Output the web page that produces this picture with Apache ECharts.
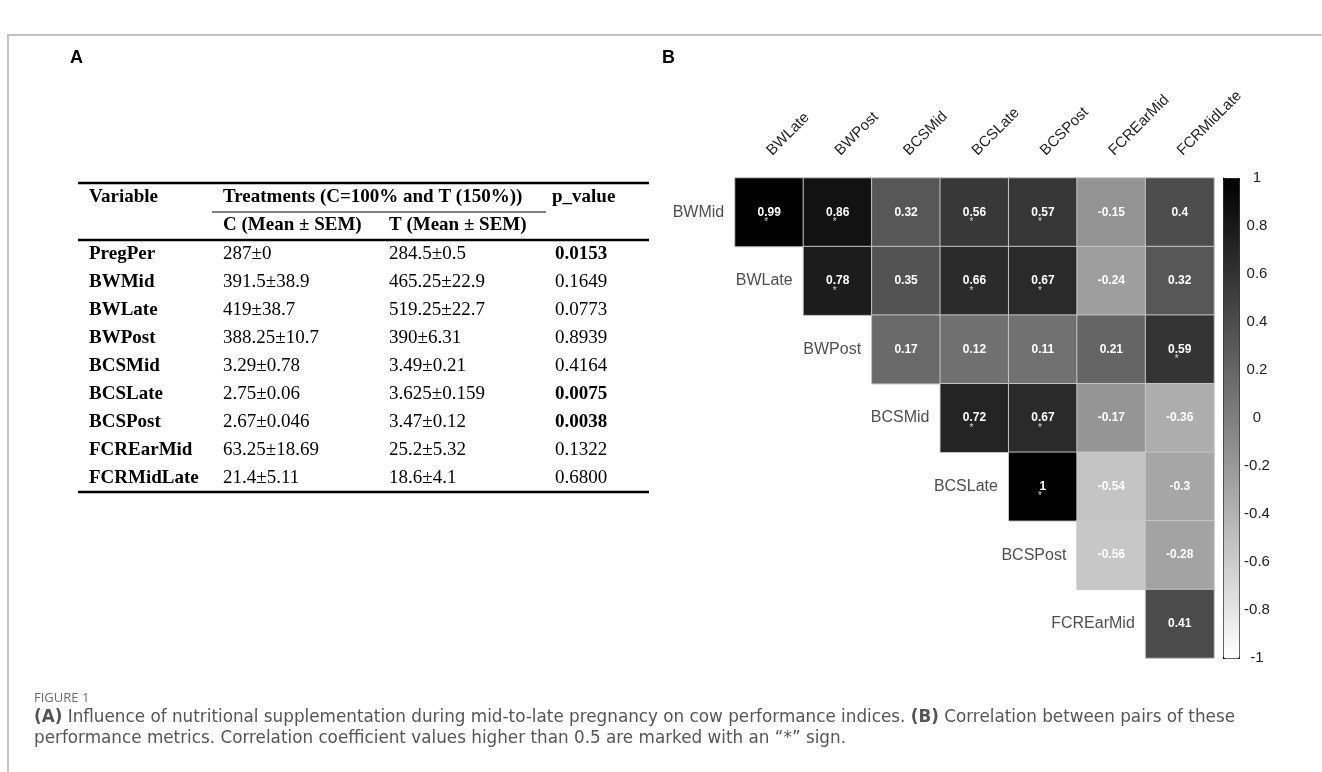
<!DOCTYPE html>
<html>
<head>
<meta charset="utf-8">
<script src="https://cdn.jsdelivr.net/npm/echarts@6/dist/echarts.min.js"></script>
<style>
  html, body { margin: 0; padding: 0; background: #fff; }
  #chart { width: 1322px; height: 772px; }
</style>
</head>
<body>
<div id="chart"></div>
<script>
// panel B: correlation matrix (upper triangle)
const colLabels = ['BWLate', 'BWPost', 'BCSMid', 'BCSLate', 'BCSPost', 'FCREarMid', 'FCRMidLate'];
const rowLabels = ['BWMid', 'BWLate', 'BWPost', 'BCSMid', 'BCSLate', 'BCSPost', 'FCREarMid'];
// row i starts at column i
const corrRows = [
  [0.99, 0.86, 0.32, 0.56, 0.57, -0.15, 0.4],
  [0.78, 0.35, 0.66, 0.67, -0.24, 0.32],
  [0.17, 0.12, 0.11, 0.21, 0.59],
  [0.72, 0.67, -0.17, -0.36],
  [1, -0.54, -0.3],
  [-0.56, -0.28],
  [0.41]
];
const starLimit = 0.5;

// panel A: table
const tableVars = ['PregPer', 'BWMid', 'BWLate', 'BWPost', 'BCSMid', 'BCSLate', 'BCSPost', 'FCREarMid', 'FCRMidLate'];
const cMeanSem = ['287±0', '391.5±38.9', '419±38.7', '388.25±10.7', '3.29±0.78', '2.75±0.06', '2.67±0.046', '63.25±18.69', '21.4±5.11'];
const tMeanSem = ['284.5±0.5', '465.25±22.9', '519.25±22.7', '390±6.31', '3.49±0.21', '3.625±0.159', '3.47±0.12', '25.2±5.32', '18.6±4.1'];
const pValues = ['0.0153', '0.1649', '0.0773', '0.8939', '0.4164', '0.0075', '0.0038', '0.1322', '0.6800'];

const captionLine1 = '(A) Influence of nutritional supplementation during mid-to-late pregnancy on cow performance indices. (B) Correlation between pairs of these';
const captionLine2 = 'performance metrics. Correlation coefficient values higher than 0.5 are marked with an \u201c*\u201d sign.';

const sans = 'Liberation Sans, Arial, sans-serif';
const serif = 'Liberation Serif, Times New Roman, serif';
const capFont = 'DejaVu Sans';

const heatData = [];
const starData = [];
corrRows.forEach((row, i) => {
  row.forEach((v, k) => {
    heatData.push([i + k, i, v]);
    if (v > starLimit) starData.push([i + k, i]);
  });
});

// fit caption so that line 1 runs to x ~ 1229
const ctx = document.createElement('canvas').getContext('2d');
ctx.font = '100px ' + capFont;
const capSize = Math.min(17, 100 * 1195 / ctx.measureText(captionLine1).width);

// table graphics
const tab = { left: 78, right: 649, top: 183, rowTop: 254, rowH: 28, colV: 89, colC: 223, colT: 389, colP: 555 };
const g = [];
function txt(x, y, s, bold, size) {
  g.push({ type: 'text', silent: true, style: {
    x: x, y: y, text: s, fill: '#000', align: 'left', verticalAlign: 'middle',
    font: (bold ? 'bold ' : '') + (size || 19) + 'px ' + serif } });
}
function hline(x1, x2, y, w) {
  g.push({ type: 'line', silent: true, shape: { x1: x1, y1: y, x2: x2, y2: y }, style: { stroke: '#000', lineWidth: w } });
}
hline(tab.left, tab.right, tab.top, 2.5);
txt(tab.colV, 197, 'Variable', true);
txt(tab.colC, 197, 'Treatments (C=100% and T (150%))', true);
txt(tab.colP - 3, 197, 'p_value', true);
hline(212, 546, 212, 1);
txt(tab.colC, 225, 'C (Mean ± SEM)', true);
txt(tab.colT, 225, 'T (Mean ± SEM)', true);
hline(tab.left, tab.right, 240, 2.5);
tableVars.forEach((name, i) => {
  const y = tab.rowTop + i * tab.rowH;
  txt(tab.colV, y, name, true);
  txt(tab.colC, y, cMeanSem[i], false);
  txt(tab.colT, y, tMeanSem[i], false);
  txt(tab.colP, y, pValues[i], parseFloat(pValues[i]) < 0.05);
});
hline(tab.left, tab.right, tab.rowTop + (tableVars.length - 1) * tab.rowH + 14, 2.5);

// frame, panel letters, caption
g.push({ type: 'polyline', silent: true, shape: { points: [[8, 772], [8, 35], [1322, 35]] }, style: { stroke: '#c4c4c4', lineWidth: 2, fill: null } });
g.push({ type: 'text', silent: true, style: { x: 70, y: 58, text: 'A', font: 'bold 18px ' + sans, fill: '#000', verticalAlign: 'middle' } });
g.push({ type: 'text', silent: true, style: { x: 662, y: 58, text: 'B', font: 'bold 18px ' + sans, fill: '#000', verticalAlign: 'middle' } });
g.push({ type: 'text', silent: true, style: { x: 34, y: 698, text: 'FIGURE 1', font: '13px Open Sans', fill: '#6b6b6b', verticalAlign: 'middle' } });
const capRich = { b: { fontFamily: capFont, fontSize: capSize, fontWeight: 'bold', fill: '#555' } };
g.push({ type: 'text', silent: true, style: { x: 34, y: 718, verticalAlign: 'middle', font: capSize + 'px ' + capFont, fill: '#555', rich: capRich,
  text: captionLine1.replace('(A)', '{b|(A)}').replace('(B)', '{b|(B)}') } });
g.push({ type: 'text', silent: true, style: { x: 34, y: 739, verticalAlign: 'middle', font: capSize + 'px ' + capFont, fill: '#555',
  text: captionLine2 } });

const option = {
  animation: false,
  graphic: g,
  grid: [
    { left: 735, top: 178, width: 479, height: 480 },
    { left: 1223, top: 178, width: 16, height: 480 }
  ],
  xAxis: [
    {
      type: 'category', data: colLabels, position: 'top', gridIndex: 0,
      axisLine: { show: false }, axisTick: { show: false }, splitLine: { show: false },
      axisLabel: { rotate: -45, margin: 25, fontSize: 15, color: '#222', fontFamily: sans }
    },
    { type: 'value', gridIndex: 1, show: false, min: 0, max: 1 }
  ],
  yAxis: [
    { type: 'category', data: rowLabels, inverse: true, gridIndex: 0, show: false },
    {
      type: 'value', gridIndex: 1, position: 'right', min: -1, max: 1, interval: 0.2,
      axisLine: { show: true, lineStyle: { color: '#000', width: 1 } },
      axisTick: { show: true, length: 5, lineStyle: { color: '#333' } },
      splitLine: { show: false },
      axisLabel: { fontSize: 15, color: '#222', fontFamily: sans, align: 'center', margin: 18 }
    }
  ],
  visualMap: {
    type: 'continuous', min: -1, max: 1, seriesIndex: 0, calculable: false,
    orient: 'vertical', left: 1223, top: 178, itemWidth: 16, itemHeight: 480,
    padding: 0, borderWidth: 1, borderColor: '#000',
    inRange: { color: ['#ffffff', '#000000'] }
  },
  series: [
    {
      type: 'heatmap', data: heatData,
      itemStyle: { borderColor: '#c6c6c6', borderWidth: 1 },
      label: {
        show: true, color: '#fff', fontWeight: 'bold', fontSize: 12, fontFamily: sans,
        formatter: p => String(p.data[2])
      },
      emphasis: { disabled: true }
    },
    {
      type: 'scatter', silent: true,
      data: rowLabels.map((n, i) => [i, i, n]),
      symbol: 'rect', symbolSize: 68, itemStyle: { color: 'rgba(0,0,0,0)' },
      label: { show: true, position: 'left', distance: 11, fontSize: 16, color: '#222', fontFamily: sans, formatter: p => p.data[2] }
    },
    {
      type: 'scatter', silent: true, data: starData,
      symbolSize: 1, itemStyle: { color: 'rgba(0,0,0,0)' },
      label: { show: true, position: 'inside', offset: [-3, 10], fontSize: 10, color: '#fff', fontFamily: sans, formatter: '*' }
    }
  ]
};

const chart = echarts.init(document.getElementById('chart'));
chart.setOption(option);
</script>
</body>
</html>
